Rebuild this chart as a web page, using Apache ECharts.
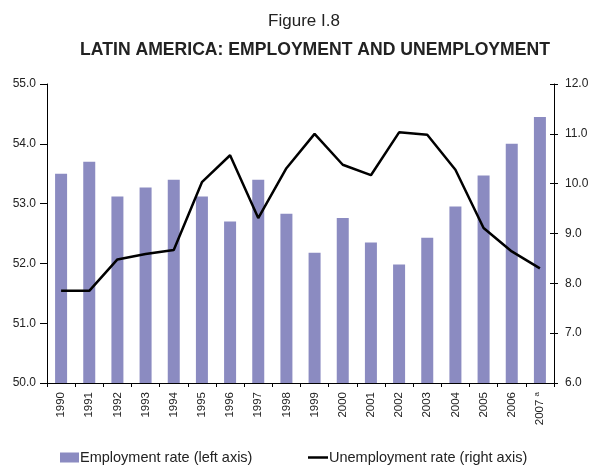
<!DOCTYPE html>
<html>
<head>
<meta charset="utf-8">
<script src="https://cdn.jsdelivr.net/npm/echarts@6/dist/echarts.min.js"></script>
<style>
  html, body { margin: 0; padding: 0; background: #fff; }
  #chart { width: 592px; height: 470px; }
</style>
</head>
<body>
<div id="chart"></div>
<script>
// Years on the category axis
const years = ['1990','1991','1992','1993','1994','1995','1996','1997','1998',
               '1999','2000','2001','2002','2003','2004','2005','2006','2007'];
// Employment rate, % (left axis)
const employment = [53.50, 53.70, 53.12, 53.27, 53.40, 53.12, 52.70, 53.40, 52.83,
                    52.18, 52.76, 52.35, 51.98, 52.43, 52.95, 53.47, 54.00, 54.45];
// Unemployment rate, % (right axis)
const unemployment = [7.85, 7.85, 8.48, 8.59, 8.67, 10.03, 10.57, 9.31, 10.31,
                      11.00, 10.38, 10.17, 11.03, 10.98, 10.28, 9.11, 8.64, 8.30];
// Year carrying a footnote mark
const footnoteYear = '2007';

const FONT = '"Liberation Sans", Arial, sans-serif';
const TEXT = '#222';
const EMP = 'Employment rate (left axis)';
const UNEMP = 'Unemployment rate (right axis)';

const chart = echarts.init(document.getElementById('chart'), null, { renderer: 'canvas' });

const legendText = { fontFamily: FONT, fontSize: 14.5, color: TEXT, padding: [0, 0, 0, -4] };

chart.setOption({
  animation: false,
  backgroundColor: '#fff',
  textStyle: { fontFamily: FONT },
  title: [
    {
      text: 'Figure I.8',
      left: 299, top: 8, textAlign: 'center',
      textStyle: { fontFamily: FONT, fontSize: 17, fontWeight: 'normal', color: TEXT }
    },
    {
      text: 'LATIN AMERICA: EMPLOYMENT AND UNEMPLOYMENT',
      left: 310, top: 36, textAlign: 'center',
      textStyle: { fontFamily: FONT, fontSize: 17.6, fontWeight: 'bold', color: TEXT }
    }
  ],
  legend: [
    {
      left: 55, bottom: 0,
      itemWidth: 19, itemHeight: 10,
      textStyle: legendText,
      data: [{ name: EMP, icon: 'rect' }]
    },
    {
      left: 303, bottom: 0,
      itemWidth: 20, itemHeight: 10,
      textStyle: legendText,
      data: [{ name: UNEMP, icon: 'path://M0,4 L20,4 L20,6.5 L0,6.5 Z' }]
    }
  ],
  grid: { left: 47, right: 38, top: 84, bottom: 87, containLabel: false },
  xAxis: {
    type: 'category',
    data: years,
    boundaryGap: true,
    axisLine: { lineStyle: { color: '#000', width: 1 } },
    axisTick: { show: true, length: 4, lineStyle: { color: '#000' } },
    axisLabel: {
      rotate: 90, interval: 0, margin: 9,
      fontFamily: FONT, fontSize: 11.5, color: TEXT,
      formatter: v => v === footnoteYear ? v + ' {sup|a}' : v,
      rich: { sup: { fontSize: 8, fontFamily: FONT, color: TEXT, verticalAlign: 'top', padding: [0, 0, 6, 0] } }
    }
  },
  yAxis: [
    {
      type: 'value', position: 'left',
      min: 50, max: 55, interval: 1,
      axisLine: { show: true, lineStyle: { color: '#000' } },
      axisTick: { show: true, length: 7, lineStyle: { color: '#000' } },
      splitLine: { show: false },
      axisLabel: { formatter: v => v.toFixed(1), fontFamily: FONT, fontSize: 12, color: TEXT, margin: 11 }
    },
    {
      type: 'value', position: 'right',
      min: 6, max: 12, interval: 1,
      axisLine: { show: true, lineStyle: { color: '#000' } },
      axisTick: { show: true, length: 4, lineStyle: { color: '#000' } },
      splitLine: { show: false },
      axisLabel: { formatter: v => v.toFixed(1), fontFamily: FONT, fontSize: 12, color: TEXT, margin: 11 }
    },
    {
      // inner half of the right-axis cross ticks
      type: 'value', position: 'right',
      min: 6, max: 12, interval: 1,
      axisLine: { show: false },
      axisTick: { show: true, inside: true, length: 4, lineStyle: { color: '#000' } },
      splitLine: { show: false },
      axisLabel: { show: false }
    }
  ],
  series: [
    {
      name: EMP,
      type: 'bar',
      yAxisIndex: 0,
      data: employment,
      barWidth: 12,
      itemStyle: { color: '#8B8BC1' }
    },
    {
      name: UNEMP,
      type: 'line',
      yAxisIndex: 1,
      data: unemployment,
      symbol: 'none',
      lineStyle: { color: '#000', width: 2.5 },
      itemStyle: { color: '#000' }
    }
  ]
});
</script>
</body>
</html>
